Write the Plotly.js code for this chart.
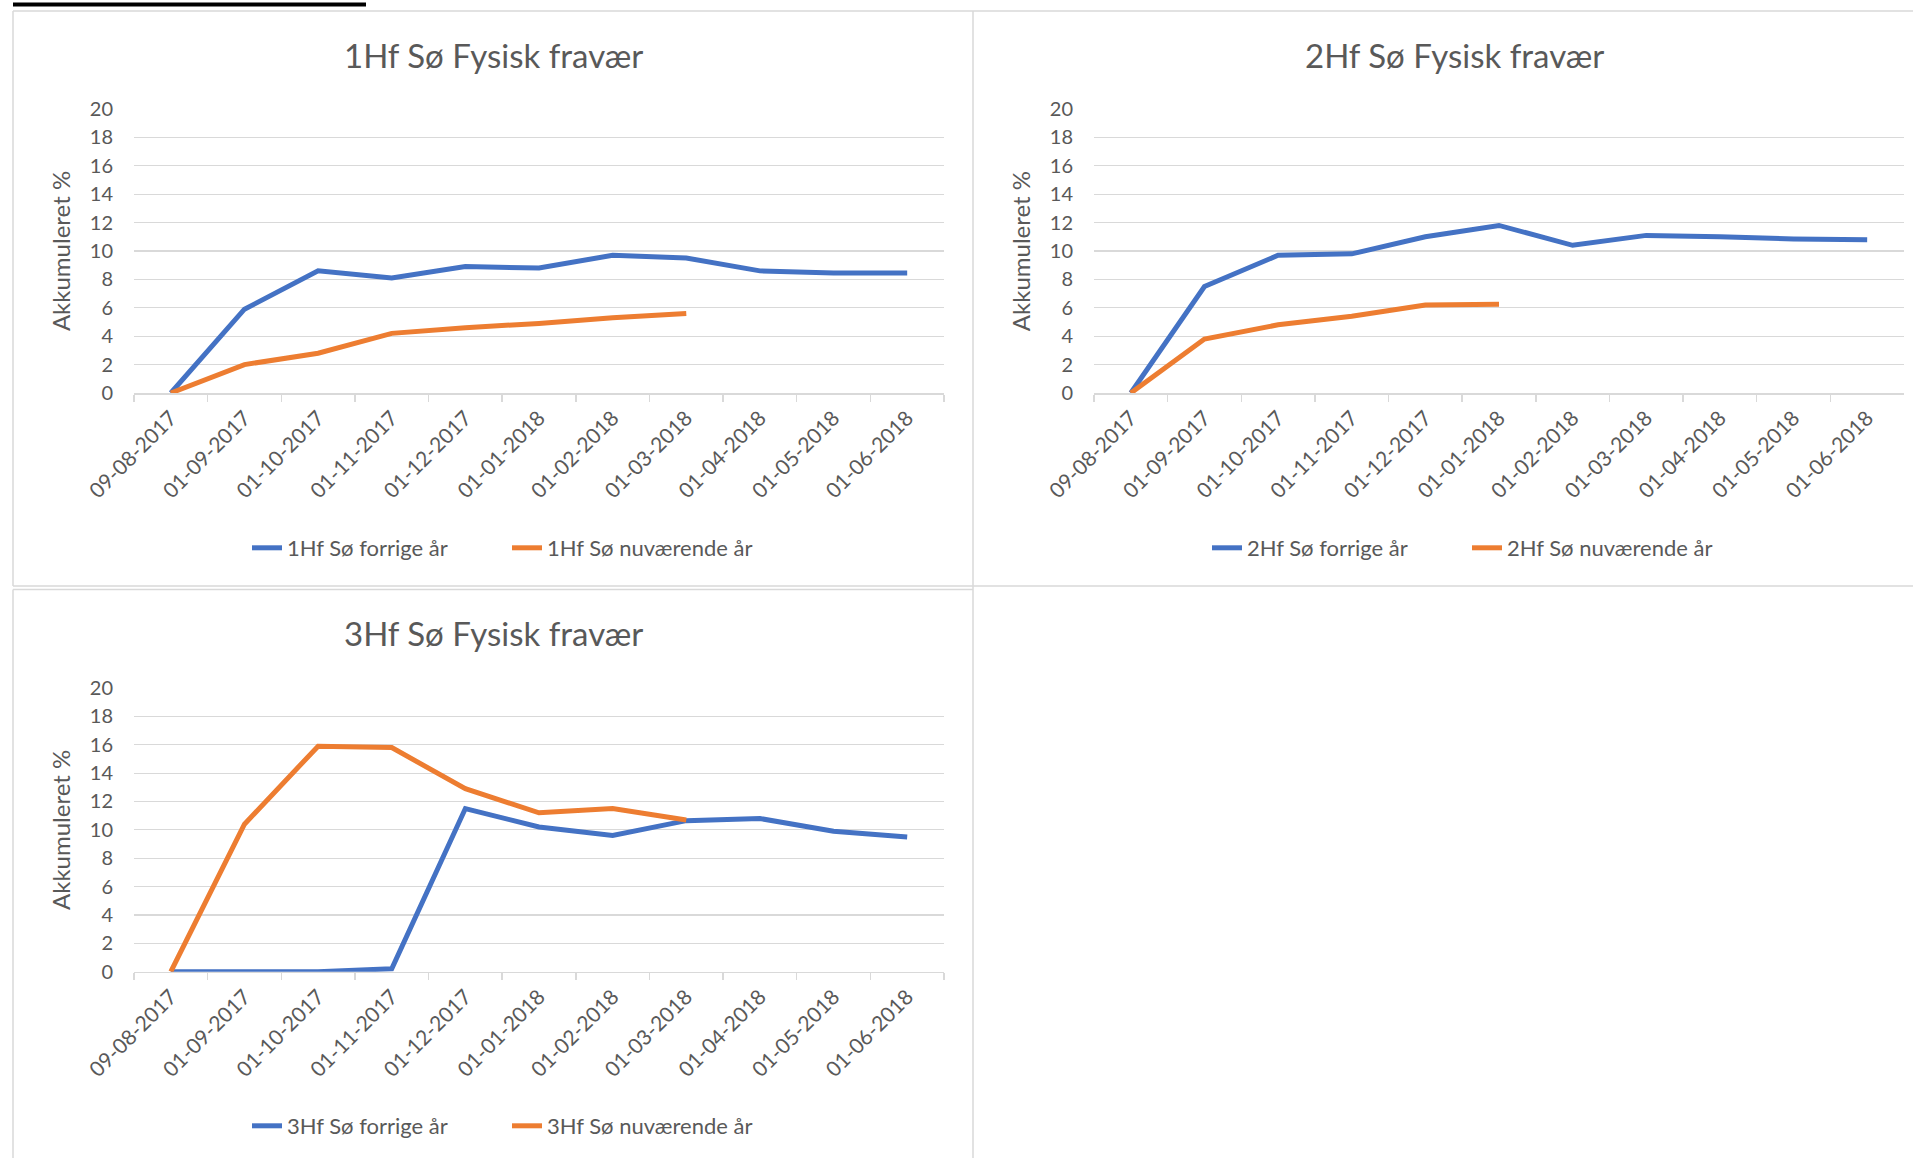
<!DOCTYPE html>
<html>
<head>
<meta charset="utf-8">
<script src="https://cdn.plot.ly/plotly-3.0.1.min.js"></script>
<style>
  html, body { margin: 0; padding: 0; background: #fff; }
  #chart { width: 1913px; height: 1158px; }
</style>
</head>
<body>
<div id="chart"></div>
<script>
// ---- Data ----
const categories = ["09-08-2017","01-09-2017","01-10-2017","01-11-2017","01-12-2017","01-01-2018","01-02-2018","01-03-2018","01-04-2018","01-05-2018","01-06-2018"];
const yTicks = [0, 2, 4, 6, 8, 10, 12, 14, 16, 18, 20];

const chartTitles = ["1Hf Sø Fysisk fravær", "2Hf Sø Fysisk fravær", "3Hf Sø Fysisk fravær"];
const prevNames = ["1Hf Sø forrige år", "2Hf Sø forrige år", "3Hf Sø forrige år"];
const currNames = ["1Hf Sø nuværende år", "2Hf Sø nuværende år", "3Hf Sø nuværende år"];
const yTitle = "Akkumuleret %";

const hf1Prev = [0, 5.9, 8.6, 8.1, 8.9, 8.8, 9.7, 9.5, 8.6, 8.45, 8.45];
const hf1Curr = [0, 2.0, 2.8, 4.2, 4.6, 4.9, 5.3, 5.6];
const hf2Prev = [0, 7.5, 9.7, 9.8, 11.0, 11.8, 10.4, 11.1, 11.0, 10.85, 10.8];
const hf2Curr = [0, 3.8, 4.8, 5.4, 6.2, 6.25];
const hf3Prev = [0, 0, 0, 0.2, 11.5, 10.2, 9.6, 10.65, 10.8, 9.9, 9.5];
const hf3Curr = [0, 10.4, 15.9, 15.8, 12.9, 11.2, 11.5, 10.7];

// ---- Styling ----
const W = 1913, H = 1158;
const px = v => v / W;
const py = v => 1 - v / H;
const BLUE = "#4472C4", ORANGE = "#ED7D31";
const GRID = "#D9D9D9", TXT = "#595959";
const FONT = "Lato, 'Open Sans', sans-serif";

const prevSeries = [hf1Prev, hf2Prev, hf3Prev];
const currSeries = [hf1Curr, hf2Curr, hf3Curr];

// subplot geometry in page pixels
const panels = [
  {x0: 134, x1: 944, yTop: 109, yBot: 393, titleX: 493, titleY: 55, legX: 507, legY: 548},
  {x0: 1094, x1: 1904, yTop: 109, yBot: 393, titleX: 1454, titleY: 55, legX: 1467, legY: 548},
  {x0: 134, x1: 944, yTop: 688, yBot: 971.7, titleX: 493, titleY: 633, legX: 507, legY: 1126}
];

const traces = [];
const layout = {
  width: W, height: H,
  margin: {l: 0, r: 0, t: 0, b: 0},
  paper_bgcolor: "#fff", plot_bgcolor: "#fff",
  font: {family: FONT, color: TXT},
  showlegend: true,
  annotations: [],
  shapes: []
};

panels.forEach((p, i) => {
  const n = i + 1;
  const xa = n === 1 ? "x" : "x" + n;
  const ya = n === 1 ? "y" : "y" + n;
  const lg = n === 1 ? "legend" : "legend" + n;
  traces.push({
    type: "scatter", mode: "lines", name: prevNames[i],
    x: categories.slice(0, prevSeries[i].length), y: prevSeries[i],
    xaxis: xa, yaxis: ya, legend: lg,
    line: {color: BLUE, width: 5}
  });
  traces.push({
    type: "scatter", mode: "lines", name: currNames[i],
    x: categories.slice(0, currSeries[i].length), y: currSeries[i],
    xaxis: xa, yaxis: ya, legend: lg,
    line: {color: ORANGE, width: 5}
  });
  const xKey = n === 1 ? "xaxis" : "xaxis" + n;
  const yKey = n === 1 ? "yaxis" : "yaxis" + n;
  layout[xKey] = {
    domain: [px(p.x0), px(p.x1)],
    anchor: ya,
    type: "category",
    categoryorder: "array", categoryarray: categories,
    range: [-0.5, categories.length - 0.5],
    tickson: "boundaries",
    ticks: "outside", ticklen: 7, tickwidth: 1.5, tickcolor: GRID,
    showline: true, linecolor: GRID, linewidth: 1.5,
    showgrid: false, zeroline: false,
    tickangle: -45,
    tickfont: {family: FONT, size: 21, color: TXT},
    ticklabelstandoff: 3,
    fixedrange: true
  };
  layout[yKey] = {
    domain: [py(p.yBot), py(p.yTop)],
    anchor: xa,
    range: [0, 20],
    tickvals: yTicks,
    ticks: "", showline: false, zeroline: false,
    showgrid: true, gridcolor: GRID, gridwidth: 1.2,
    tickfont: {family: FONT, size: 20, color: TXT},
    ticklabelstandoff: 20,
    title: {text: yTitle, font: {family: FONT, size: 24, color: TXT}, standoff: 12},
    fixedrange: true
  };
  layout[lg] = {
    orientation: "h",
    x: px(p.legX), y: py(p.legY),
    xanchor: "center", yanchor: "middle",
    font: {family: FONT, size: 22, color: TXT},
    entrywidth: 215,
    bgcolor: "rgba(0,0,0,0)"
  };
  layout.annotations.push({
    text: chartTitles[i], xref: "paper", yref: "paper",
    x: px(p.titleX), y: py(p.titleY), xanchor: "center", yanchor: "middle",
    showarrow: false, font: {family: FONT, size: 33, color: TXT}
  });
});

// panel borders
const border = {type: "line", xref: "paper", yref: "paper", line: {color: GRID, width: 1.5}};
const segs = [
  [13, 11, 1913, 11],
  [13, 11, 13, 586],
  [13, 586, 1913, 586],
  [973, 11, 973, 1158],
  [13, 589.5, 973, 589.5],
  [13, 589.5, 13, 1158]
];
segs.forEach(s => layout.shapes.push(Object.assign({}, border, {
  x0: px(s[0]), y0: py(s[1]), x1: px(s[2]), y1: py(s[3])
})));
// black bar at top (cut-off header underline)
layout.shapes.push({type: "rect", xref: "paper", yref: "paper",
  x0: px(13), x1: px(366), y0: py(6.5), y1: py(2.5),
  fillcolor: "#000", line: {width: 0}});

Plotly.newPlot("chart", traces, layout, {displayModeBar: false, staticPlot: true});
</script>
</body>
</html>
